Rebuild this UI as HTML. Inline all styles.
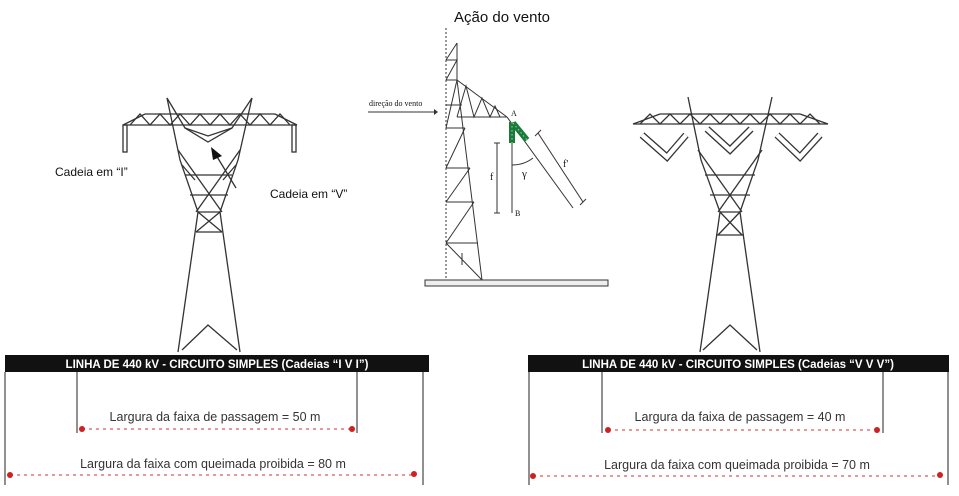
<!DOCTYPE html>
<html><head><meta charset="utf-8"><style>
html,body{margin:0;padding:0;background:#fff;width:959px;height:496px;overflow:hidden}
</style></head><body>
<svg width="959" height="496" viewBox="0 0 959 496" xmlns="http://www.w3.org/2000/svg" font-family="Liberation Sans, sans-serif">
<rect width="959" height="496" fill="#fff"/>
<!-- LEFT TOWER -->
<g stroke="#333" stroke-width="1.3" fill="none">
<line x1="123" y1="125" x2="297" y2="125"/>
<line x1="145" y1="114" x2="275" y2="114"/>
<line x1="123" y1="125" x2="145" y2="114"/><line x1="297" y1="125" x2="275" y2="114"/>
<polyline points="130,125 140,114 150,125 160,114 170,125 180,114 190,125 200,114 210,125 220,114 230,125 240,114 250,125 260,114 270,125 280,114 290,125"/>
<rect x="123" y="125" width="4" height="27"/><rect x="292" y="125" width="4" height="27"/>
<polyline points="167,98 180,160 198,212"/><polyline points="252,98 238,160 220,212"/>
<polyline points="167,98 185,128 208,142 232,128 252,98"/>
<polyline points="185,128 208,136 232,128"/>
<line x1="178" y1="150" x2="222" y2="212"/><line x1="240" y1="150" x2="196" y2="212"/>
<line x1="185" y1="175" x2="232" y2="175"/><line x1="190" y1="195" x2="228" y2="195"/>
<line x1="182" y1="165" x2="195" y2="180"/><line x1="236" y1="165" x2="223" y2="180"/>
<line x1="198" y1="212" x2="220" y2="212"/>
<line x1="198" y1="212" x2="222" y2="232"/><line x1="220" y1="212" x2="196" y2="232"/>
<line x1="196" y1="232" x2="222" y2="232"/>
<line x1="198" y1="212" x2="178" y2="352"/><line x1="220" y1="212" x2="240" y2="352"/>
<polyline points="182,350 208,325 237,350"/>
</g>
<line x1="236" y1="188" x2="216" y2="155" stroke="#333" stroke-width="1.3"/>
<polygon points="211,147 222,156 213,160" fill="#111"/>
<text x="55" y="176" font-size="12" fill="#111">Cadeia  em “I”</text>
<text x="270" y="198" font-size="12" fill="#111">Cadeia  em “V”</text>

<!-- RIGHT TOWER -->
<g stroke="#333" stroke-width="1.3" fill="none">
<line x1="633" y1="124" x2="828" y2="124"/>
<line x1="660" y1="114" x2="800" y2="114"/>
<line x1="633" y1="124" x2="660" y2="114"/><line x1="828" y1="124" x2="800" y2="114"/>
<polyline points="640,124 650,114 660,124 670,114 680,124 690,114 700,124 710,114 720,124 730,114 740,124 750,114 760,124 770,114 780,124 790,114 800,124 810,114 820,124"/>
<polyline points="688,97 701,160 720,212"/><polyline points="772,97 758,160 740,212"/>
<line x1="698" y1="150" x2="742" y2="212"/><line x1="762" y1="150" x2="718" y2="212"/>
<line x1="705" y1="175" x2="755" y2="175"/><line x1="710" y1="195" x2="750" y2="195"/>
<line x1="720" y1="212" x2="740" y2="212"/>
<line x1="720" y1="212" x2="742" y2="235"/><line x1="740" y1="212" x2="718" y2="235"/>
<line x1="716" y1="235" x2="744" y2="235"/>
<line x1="720" y1="212" x2="700" y2="352"/><line x1="740" y1="212" x2="760" y2="352"/>
<polyline points="703,350 730,325 757,350"/>
<g stroke-width="7" stroke="#333"><polyline points="642,135 667,157 686,135"/><polyline points="707,129 730,150 751,129"/><polyline points="777,135 800,157 820,135"/></g>
<g stroke-width="4.4" stroke="#fff"><polyline points="642,135 667,157 686,135"/><polyline points="707,129 730,150 751,129"/><polyline points="777,135 800,157 820,135"/></g>
</g>

<!-- MIDDLE -->
<text x="502" y="22" font-size="15" text-anchor="middle" fill="#111">Ação do vento</text>
<g stroke="#333" stroke-width="1" fill="none">
<line x1="446" y1="28" x2="446" y2="278" stroke-dasharray="2,2"/>
<rect x="425" y="280" width="183" height="6" fill="#eee"/>
<line x1="457" y1="43" x2="457" y2="80"/>
<line x1="457" y1="80" x2="482" y2="280"/>
<line x1="446" y1="60" x2="457" y2="43"/>
<line x1="446" y1="80" x2="457" y2="80"/><line x1="446" y1="105" x2="462" y2="105"/>
<line x1="446" y1="128" x2="465" y2="128"/><line x1="446" y1="168" x2="470" y2="168"/>
<line x1="446" y1="202" x2="474" y2="202"/><line x1="446" y1="243" x2="478" y2="243"/>
<polyline points="446,80 457,60 446,60"/>
<line x1="446" y1="128" x2="457" y2="80"/><line x1="446" y1="168" x2="465" y2="128"/>
<line x1="446" y1="202" x2="470" y2="168"/><line x1="446" y1="243" x2="474" y2="202"/>
<line x1="446" y1="243" x2="482" y2="280"/><line x1="462" y1="253" x2="462" y2="265"/>
<line x1="457" y1="80" x2="507" y2="117"/><line x1="457" y1="117" x2="507" y2="117"/>
<polyline points="457,117 466,86 474,117 482,98 490,117 495,106 500,117"/>
<line x1="368" y1="112" x2="434" y2="112"/>
<line x1="512" y1="143" x2="512" y2="213"/>
<line x1="497" y1="143" x2="497" y2="213"/><line x1="494" y1="143" x2="500" y2="143"/><line x1="494" y1="213" x2="500" y2="213"/>
<line x1="507" y1="117" x2="573" y2="208"/>
<line x1="538" y1="133" x2="583" y2="202"/><line x1="535" y1="136" x2="541" y2="130"/><line x1="580" y1="205" x2="586" y2="199"/>
<path d="M512,165 Q524,165 533,158"/>
</g>
<polygon points="434,109 438,112 434,115" fill="#333"/>
<g stroke="#1a7a3a" stroke-width="6"><line x1="512" y1="122" x2="512" y2="143"/><line x1="513" y1="123" x2="527" y2="140"/></g>
<g stroke="#7fd08a" stroke-width="1.2" stroke-dasharray="1.5,2.5"><line x1="512" y1="122" x2="512" y2="143"/><line x1="513" y1="123" x2="527" y2="140"/></g>
<g font-family="Liberation Serif, serif" fill="#111">
<text x="369" y="106" font-size="8">direção do vento</text>
<text x="511" y="116" font-size="8">A</text>
<text x="515" y="216" font-size="8">B</text>
<text x="490" y="180" font-size="10">f</text>
<text x="563" y="167" font-size="10">f'</text>
<text x="522" y="177" font-size="11">γ</text>
</g>

<!-- BOTTOM LEFT -->
<rect x="5" y="355" width="424" height="17" fill="#111"/>
<text x="217" y="368" font-size="11.5" font-weight="bold" fill="#fff" text-anchor="middle">LINHA DE 440 kV - CIRCUITO SIMPLES (Cadeias “I V I”)</text>
<g stroke="#555" stroke-width="1.3"><line x1="5" y1="372" x2="5" y2="485"/><line x1="423" y1="372" x2="423" y2="485"/><line x1="77" y1="372" x2="77" y2="433"/><line x1="357" y1="372" x2="357" y2="433"/></g>
<g stroke="#c33" stroke-width="1" stroke-dasharray="3,4"><line x1="82" y1="429" x2="352" y2="429"/><line x1="10" y1="475" x2="414" y2="475"/><line x1="608" y1="430" x2="877" y2="430"/><line x1="533" y1="476" x2="940" y2="476"/></g>
<g fill="#c22"><circle cx="82" cy="429" r="3"/><circle cx="352" cy="429" r="3"/><circle cx="10" cy="475" r="3"/><circle cx="414" cy="474" r="3"/>
<circle cx="608" cy="430" r="3"/><circle cx="877" cy="430" r="3"/><circle cx="533" cy="476" r="3"/><circle cx="940" cy="475" r="3"/></g>
<text x="215" y="421" font-size="12.5" fill="#333" text-anchor="middle">Largura da faixa de passagem = 50 m</text>
<text x="213" y="468" font-size="12.5" fill="#333" text-anchor="middle">Largura da faixa com queimada proibida = 80 m</text>

<!-- BOTTOM RIGHT -->
<rect x="528" y="355" width="421" height="17" fill="#111"/>
<text x="738" y="368" font-size="11.5" font-weight="bold" fill="#fff" text-anchor="middle">LINHA DE 440 kV - CIRCUITO SIMPLES (Cadeias “V V V”)</text>
<g stroke="#555" stroke-width="1.3"><line x1="529" y1="372" x2="529" y2="485"/><line x1="948" y1="372" x2="948" y2="485"/><line x1="602" y1="372" x2="602" y2="433"/><line x1="883" y1="372" x2="883" y2="433"/></g>
<text x="740" y="421" font-size="12.5" fill="#333" text-anchor="middle">Largura da faixa de passagem = 40 m</text>
<text x="737" y="469" font-size="12.5" fill="#333" text-anchor="middle">Largura da faixa com queimada proibida = 70 m</text>
</svg>
</body></html>
